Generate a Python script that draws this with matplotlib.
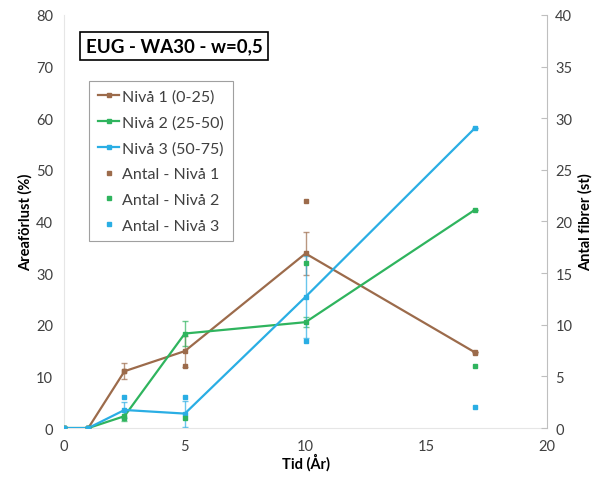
import numpy as np
import matplotlib.pyplot as plt

plt.rcParams['font.family'] = ['Lato', 'DejaVu Sans']

# tid i år
tid = [0, 1, 2.5, 5, 10, 17]

# arealförlust (%) per nivå
niva1 = [0, 0, 11.0, 14.9, 33.8, 14.7]
niva2 = [0, 0, 2.3, 18.3, 20.5, 42.2]
niva3 = [0, 0, 3.5, 2.8, 25.4, 58.0]

# standardavvikelse
err1 = [0, 0, 1.5, 3.0, 4.2, 0]
err2 = [0, 0, 1.0, 2.5, 1.0, 0]
err3 = [0, 0, 1.5, 2.5, 8.0, 0]

# antal fibrer (st)
antal1 = [0, 0, 5.5, 6.0, 22.0, 7.3]
antal2 = [0, 0, 1.0, 1.0, 16.0, 6.0]
antal3 = [0, 0, 3.0, 3.0, 8.4, 2.0]

labels = ['Nivå 1 (0-25)', 'Nivå 2 (25-50)', 'Nivå 3 (50-75)']
antal_labels = ['Antal - Nivå 1', 'Antal - Nivå 2', 'Antal - Nivå 3']
colors = ['#9c6b4b', '#2fb45e', '#2aaee4']

fig = plt.figure(figsize=(6.05, 4.81), dpi=100)
ax = fig.add_axes([0.106, 0.108, 0.798, 0.859])
ax2 = ax.twinx()

handles = []
for y, e, c, lab in zip([niva1, niva2, niva3], [err1, err2, err3], colors, labels):
    ax.errorbar(tid, y, yerr=e, fmt='none', ecolor=c, elinewidth=1, capsize=2, alpha=0.7, zorder=2)
    h, = ax.plot(tid, y, color=c, lw=1.6, marker='s', ms=3.5, label=lab, zorder=3)
    handles.append(h)

for y, c, lab in zip([antal1, antal2, antal3], colors, antal_labels):
    h, = ax2.plot(tid, y, ls='none', color=c, marker='s', ms=3.2, label=lab)
    handles.append(h)

ax.set_xlim(0, 20)
ax.set_ylim(0, 80)
ax2.set_ylim(0, 40)
ax.set_xticks([0, 5, 10, 15, 20])
ax.set_yticks(np.arange(0, 81, 10))
ax2.set_yticks(np.arange(0, 41, 5))

for a in (ax, ax2):
    for s in a.spines.values():
        s.set_visible(False)
    a.tick_params(labelsize=10.5, colors='#404040', length=0, pad=8)
ax.spines['left'].set_visible(True)
ax.spines['left'].set_color('#e6e6e6')
ax.spines['bottom'].set_visible(True)
ax.spines['bottom'].set_color('#e6e6e6')
ax2.spines['right'].set_visible(True)
ax2.spines['right'].set_color('#bfbfbf')
ax2.tick_params(axis='y', length=4, direction='in', color='#bfbfbf', pad=6)

ax.set_xlabel('Tid (År)', fontsize=10.5, fontweight='bold', labelpad=0)
ax.set_ylabel('Areaförlust (%)', fontsize=10.5, fontweight='bold', labelpad=2)
ax2.set_ylabel('Antal fibrer (st)', fontsize=10.5, fontweight='bold', labelpad=4)

ax.text(0.045, 0.925, 'EUG - WA30 - w=0,5', transform=ax.transAxes, fontsize=13.5,
        fontweight='bold', va='center', ha='left',
        bbox=dict(boxstyle='square,pad=0.3', fc='white', ec='black', lw=1.2))

leg = ax2.legend(handles=handles, loc='upper left', bbox_to_anchor=(0.036, 0.86),
                 fontsize=11.5, frameon=True, fancybox=False, edgecolor='#888888',
                 handlelength=1.3, handletextpad=0.2, labelspacing=0.72, borderpad=0.55,
                 markerscale=0.9)
leg.get_frame().set_linewidth(0.8)
for t in leg.get_texts():
    t.set_color('#404040')

fig.savefig('out.png', dpi=100)
